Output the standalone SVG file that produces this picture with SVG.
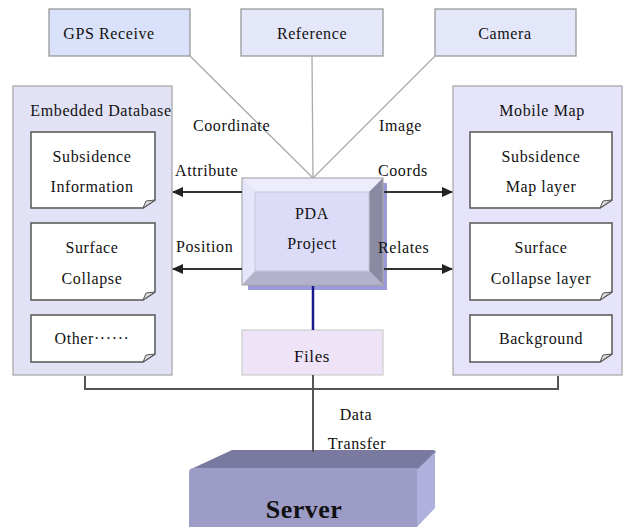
<svg xmlns="http://www.w3.org/2000/svg" width="627" height="527" viewBox="0 0 627 527">
<style>
text{font-family:"Liberation Serif","DejaVu Serif","Times New Roman",serif;font-size:16px;letter-spacing:0.6px;fill:#111;text-anchor:middle}
.st{text-anchor:start}
.big{font-size:17px}
.srv{font-size:26px;font-weight:bold;letter-spacing:0.5px}
.cont{stroke:#aaa;stroke-width:1.3}
.page{fill:#fff;stroke:#555;stroke-width:1.5}
.fold{fill:#ddd;stroke:#555;stroke-width:1}
.gline{stroke:#aaa;stroke-width:1.3;fill:none}
.arr{stroke:#333;stroke-width:2;fill:none;marker-end:url(#ah)}
.bus{stroke:#555;stroke-width:2;fill:none}
</style>
<defs>
<marker id="ah" markerWidth="11" markerHeight="10" refX="10" refY="5" orient="auto" markerUnits="userSpaceOnUse">
<path d="M0,0 L11,5 L0,10 Z" fill="#222"/>
</marker>
</defs>

<g id="gps">
<rect x="49" y="9" width="141" height="47" fill="#d9e2fa" stroke="#999" stroke-width="1.3"/>
<text x="109" y="39">GPS Receive</text>
</g>
<g id="reference">
<rect x="241" y="9" width="142" height="47" fill="#e4e6fa" stroke="#999" stroke-width="1.3"/>
<text x="312" y="39">Reference</text>
</g>
<g id="camera">
<rect x="435" y="9" width="141" height="47" fill="#e4e6fa" stroke="#999" stroke-width="1.3"/>
<text x="505" y="39">Camera</text>
</g>

<g id="embedded-db">
<rect class="cont" x="13" y="86" width="159" height="289" fill="#e2e2f6"/>
<text x="101" y="116">Embedded Database</text>
</g>
<g id="subsidence-info">
<path class="page" d="M31,132 H155 V200 L143,208 H31 Z"/>
<path class="fold" d="M155,200 L143,208 L146,201 Z"/>
<text x="92" y="162">Subsidence</text>
<text x="92" y="192">Information</text>
</g>
<g id="surface-collapse">
<path class="page" d="M31,223 H155 V292 L143,300 H31 Z"/>
<path class="fold" d="M155,292 L143,300 L146,293 Z"/>
<text x="92" y="253">Surface</text>
<text x="92" y="284">Collapse</text>
</g>
<g id="other">
<path class="page" d="M31,315 H155 V354 L143,362 H31 Z"/>
<path class="fold" d="M155,354 L143,362 L146,355 Z"/>
<text x="92" y="344">Other······</text>
</g>

<g id="mobile-map">
<rect class="cont" x="453" y="86" width="169" height="289" fill="#e6e4fa"/>
<text x="542" y="116">Mobile Map</text>
</g>
<g id="subsidence-map">
<path class="page" d="M470,132 H612 V200 L600,208 H470 Z"/>
<path class="fold" d="M612,200 L600,208 L603,201 Z"/>
<text x="541" y="162">Subsidence</text>
<text x="541" y="192">Map layer</text>
</g>
<g id="surface-collapse-layer">
<path class="page" d="M470,223 H612 V292 L600,300 H470 Z"/>
<path class="fold" d="M612,292 L600,300 L603,293 Z"/>
<text x="541" y="253">Surface</text>
<text x="541" y="284">Collapse layer</text>
</g>
<g id="background">
<path class="page" d="M470,315 H612 V354 L600,362 H470 Z"/>
<path class="fold" d="M612,354 L600,362 L603,355 Z"/>
<text x="541" y="344">Background</text>
</g>

<g id="pda">
<rect x="248" y="183" width="139" height="107" fill="#9a9ad8"/>
<rect x="242" y="178" width="141" height="107" fill="#dcdcf8"/>
<polygon points="242,178 383,178 369,192 255,192" fill="#ececfb"/>
<polygon points="242,178 255,192 255,271 242,285" fill="#e6e6fa"/>
<polygon points="383,178 383,285 369,271 369,192" fill="#8a8aa2"/>
<polygon points="242,285 383,285 369,271 255,271" fill="#b2b2cc"/>
<rect x="255" y="192" width="114" height="79" fill="#dcdcf8" stroke="#c4c4dc" stroke-width="1"/>
<rect x="242" y="178" width="141" height="107" fill="none" stroke="#aaa" stroke-width="1.2"/>
<text x="312" y="219">PDA</text>
<text x="312" y="249">Project</text>
</g>

<g id="files">
<rect x="242" y="330" width="141" height="45" fill="#efe3f8" stroke="#ccc" stroke-width="1.2"/>
<text class="big" x="312" y="362">Files</text>
</g>

<g id="server">
<path d="M189,470 L232,450 H433 Q437,450 435,454 L417,470 Z" fill="#7a7aa0"/>
<path d="M417,470 L435,452 V508 L417,527 Z" fill="#b0b0dc"/>
<path d="M194,468 H417 V527 H189 V473 Q189,468 194,468 Z" fill="#9c9cc6"/>
<text class="srv" x="304" y="518">Server</text>
</g>

<g id="connectors">
<line class="gline" x1="190" y1="56" x2="313" y2="178"/>
<line class="gline" x1="312" y1="56" x2="313" y2="178"/>
<line class="gline" x1="435" y1="56" x2="313" y2="178"/>
<line class="arr" x1="242" y1="192" x2="173" y2="192"/>
<line class="arr" x1="242" y1="269" x2="173" y2="269"/>
<line class="arr" x1="384" y1="192" x2="452" y2="192"/>
<line class="arr" x1="384" y1="269" x2="452" y2="269"/>
<line x1="313" y1="286" x2="313" y2="330" stroke="#1a1a8c" stroke-width="2.5"/>
<polyline class="bus" points="85,376 85,389 558,389 558,376"/>
<line class="bus" x1="313" y1="375" x2="313" y2="452"/>
<text class="st" x="193" y="131">Coordinate</text>
<text class="st" x="175" y="176">Attribute</text>
<text class="st" x="176" y="252">Position</text>
<text class="st" x="379" y="131">Image</text>
<text class="st" x="378" y="176">Coords</text>
<text class="st" x="378" y="253">Relates</text>
<text x="356" y="420">Data</text>
<text x="357" y="449">Transfer</text>
</g>
</svg>
